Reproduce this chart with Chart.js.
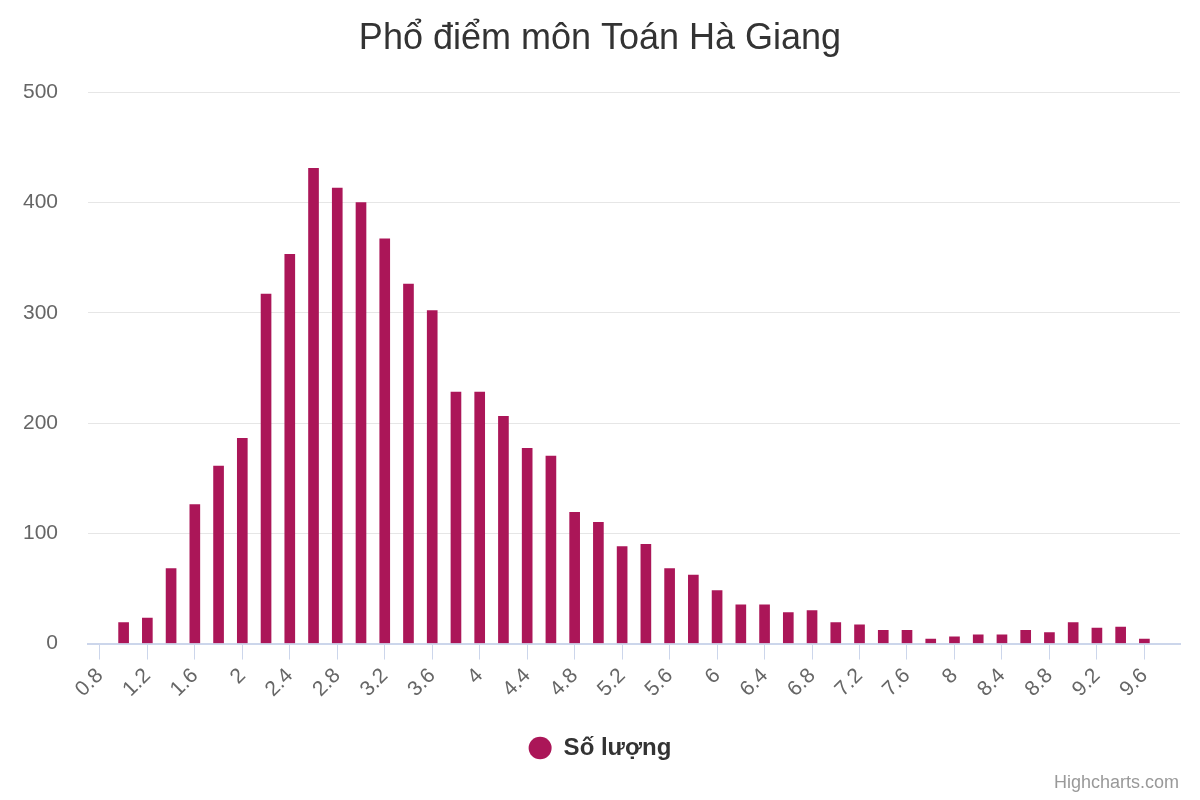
<!DOCTYPE html>
<html>
<head>
<meta charset="utf-8">
<title>Phổ điểm môn Toán Hà Giang</title>
<script src="https://cdn.jsdelivr.net/npm/chart.js@4"></script>
<style>
  html, body { margin: 0; padding: 0; background: #fff; }
  #wrap { width: 1200px; height: 800px; }
</style>
</head>
<body>
<div id="wrap"><canvas id="chart" width="1200" height="800"></canvas></div>
<script>
// điểm (trục x) và số lượng thí sinh
const diem = [1.0, 1.2, 1.4, 1.6, 1.8, 2.0, 2.2, 2.4, 2.6, 2.8, 3.0, 3.2, 3.4, 3.6, 3.8,
    4.0, 4.2, 4.4, 4.6, 4.8, 5.0, 5.2, 5.4, 5.6, 5.8, 6.0, 6.2, 6.4, 6.6, 6.8, 7.0,
    7.2, 7.4, 7.6, 7.8, 8.0, 8.2, 8.4, 8.6, 8.8, 9.0, 9.2, 9.4, 9.6];
const soLuong = [19, 23, 68, 126, 161, 186, 317, 353, 431, 413, 400, 367, 326, 302, 228,
    228, 206, 177, 170, 119, 110, 88, 90, 68, 62, 48, 35, 35, 28, 30, 19,
    17, 12, 12, 4, 6, 8, 8, 12, 10, 19, 14, 15, 4];
const xTicks = [0.8, 1.2, 1.6, 2, 2.4, 2.8, 3.2, 3.6, 4, 4.4, 4.8, 5.2, 5.6, 6, 6.4,
    6.8, 7.2, 7.6, 8, 8.4, 8.8, 9.2, 9.6];
const yTicks = [0, 100, 200, 300, 400, 500];

const FONT = '"Liberation Sans", Arial, Helvetica, sans-serif';

const credits = {
    id: 'credits',
    afterDraw: function(chart) {
        const ctx = chart.ctx;
        ctx.save();
        ctx.font = '18px ' + FONT;
        ctx.fillStyle = '#999999';
        ctx.textAlign = 'right';
        ctx.textBaseline = 'middle';
        ctx.fillText('Highcharts.com', 1179, 783);
        ctx.restore();
    }
};

const ctx = document.getElementById('chart').getContext('2d');
new Chart(ctx, {
    type: 'bar',
    data: {
        datasets: [{
            label: 'Số lượng',
            data: diem.map(function(d, i) { return { x: d, y: soLuong[i] }; }),
            backgroundColor: '#ab1658',
            borderWidth: 0,
            barThickness: 10
        }]
    },
    options: {
        responsive: false,
        animation: false,
        layout: { padding: { left: 20, right: 20, top: 0, bottom: 30 } },
        plugins: {
            title: {
                display: true,
                text: 'Phổ điểm môn Toán Hà Giang',
                color: '#333333',
                font: { family: FONT, size: 36, weight: 'normal' },
                padding: { top: 17, bottom: 32 }
            },
            legend: {
                position: 'bottom',
                labels: {
                    usePointStyle: true,
                    pointStyle: 'circle',
                    pointStyleWidth: 23,
                    boxHeight: 16,
                    color: '#333333',
                    font: { family: FONT, size: 24, weight: 'bold' },
                    padding: 20
                }
            },
            tooltip: { enabled: false }
        },
        scales: {
            x: {
                type: 'linear',
                min: 0.7,
                max: 9.9,
                offset: false,
                afterBuildTicks: function(scale) {
                    scale.ticks = xTicks.map(function(v) { return { value: v }; });
                },
                afterFit: function(scale) {
                    // chừa chỗ giữa nhãn trục x và chú thích
                    scale.height += 10;
                    scale.paddingLeft = 0;
                },
                grid: {
                    offset: false,
                    drawOnChartArea: false,
                    drawTicks: true,
                    tickLength: 16,
                    color: '#ccd6eb',
                    lineWidth: 1
                },
                border: { display: true, color: '#ccd6eb', width: 2 },
                ticks: {
                    autoSkip: false,
                    minRotation: 45,
                    maxRotation: 45,
                    padding: 4,
                    labelOffset: 0,
                    color: '#666666',
                    font: { family: FONT, size: 21 },
                    callback: function(v) { return String(Math.round(v * 10) / 10); }
                }
            },
            y: {
                min: 0,
                max: 500,
                afterBuildTicks: function(scale) {
                    scale.ticks = yTicks.map(function(v) { return { value: v }; });
                },
                afterFit: function(scale) {
                    scale.width = 68;
                },
                grid: { color: '#e6e6e6', drawTicks: false, lineWidth: 1 },
                border: { display: false },
                ticks: {
                    padding: 30,
                    color: '#666666',
                    font: { family: FONT, size: 21 }
                }
            }
        }
    },
    plugins: [credits]
});
</script>
</body>
</html>
